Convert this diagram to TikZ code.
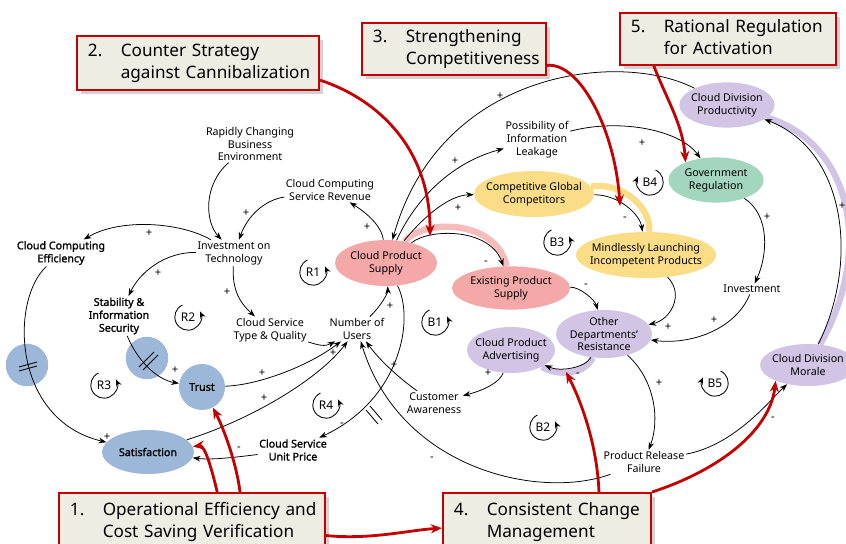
\documentclass[tikz,border=0pt]{standalone}
\usepackage{fontspec}
\setmainfont{Noto Sans}
\newfontfamily\keyfont{Noto Sans}[FakeBold=1.4]
\usetikzlibrary{arrows.meta,shapes.geometric,shadows,backgrounds}

\definecolor{cpink}{RGB}{245,168,168}
\definecolor{cpinkband}{RGB}{248,188,188}
\definecolor{cyellow}{RGB}{251,220,135}
\definecolor{cgreen}{RGB}{162,214,190}
\definecolor{cpurple}{RGB}{210,196,228}
\definecolor{cblue}{RGB}{157,183,217}
\definecolor{cboxfill}{RGB}{238,237,227}
\definecolor{cred}{RGB}{196,0,0}

\newcommand{\calltext}[3]{\begin{tabular}{@{}p{0.82cm}@{}l@{}}#1&#2\\&#3\end{tabular}}
\newcommand{\loopright}[2]{%
  \node[loopname] (loop#2) at (#1) {#2};
  \draw[looparrow] (#1) ++(115:0.33cm) arc[start angle=115, end angle=385, radius=0.33cm];}
\newcommand{\loopleft}[2]{%
  \node[loopname] (loop#2) at (#1) {#2};
  \draw[looparrow] (#1) ++(65:0.33cm) arc[start angle=65, end angle=-205, radius=0.33cm];}

\begin{document}
\begin{tikzpicture}[x=0.025cm, y=-0.025cm,
  every node/.style={font=\fontsize{7.6}{9.2}\selectfont, align=center, inner sep=1pt},
  keyvar/.style={font=\fontsize{7.6}{9.2}\keyfont},
  colvar/.style={ellipse, inner sep=0pt},
  link/.style={-{Stealth[length=5.5pt,width=4pt]}, line width=0.55pt},
  sign/.style={font=\fontsize{8}{8}\selectfont},
  band/.style={line width=4.5pt},
  redlink/.style={draw=cred, line width=2pt, -{Stealth[length=8pt,width=6.5pt]}},
  callout/.style={draw=cred, line width=1.4pt, fill=cboxfill, drop shadow={opacity=0.35},
    anchor=north west, align=left, inner xsep=0.275cm, inner ysep=2pt,
    font=\fontsize{12.2}{15.6}\selectfont},
  loopname/.style={font=\fontsize{8.5}{9}\selectfont},
  looparrow/.style={-{Stealth[length=5pt,width=4pt]}, line width=0.6pt},
  delaymark/.style={line width=0.6pt}
]
\useasboundingbox (0,0) rectangle (846,544);
\begin{pgfonlayer}{background}
  \fill[white] (0,0) rectangle (846,544);
  \fill[cblue] (27,365) circle[radius=0.53cm];
  \fill[cblue] (147,358) circle[radius=0.53cm];
\end{pgfonlayer}

% variables
\node (rcbe) at (250,144) {Rapidly Changing\\Business\\Environment};
\node (ccsr) at (330,190) {Cloud Computing\\Service Revenue};
\node[keyvar] (cce) at (61,253) {Cloud Computing\\Efficiency};
\node (iot) at (234,253) {Investment on\\Technology};
\node[keyvar] (sis) at (119,316) {Stability \&\\Information\\Security};
\node (cstq) at (270,330) {Cloud Service\\Type \& Quality};
\node (nou) at (357,329) {Number of\\Users};
\node (pil) at (537,140) {Possibility of\\Information\\Leakage};
\node (inv) at (752,289) {Investment};
\node (ca) at (434,403) {Customer\\Awareness};
\node[keyvar] (csup) at (293,450) {Cloud Service\\Unit Price};
\node (prf) at (644,462) {Product Release\\Failure};

\node[colvar, fill=cpink, minimum width=2.55cm, minimum height=1.15cm,
  label={center:Cloud Product\\Supply}] (cps) at (386,263) {};
\node[colvar, fill=cpink, minimum width=2.95cm, minimum height=1.08cm,
  label={center:Existing Product\\Supply}] (eps) at (511,288) {};
\node[colvar, fill=cyellow, minimum width=3cm, minimum height=1.15cm,
  label={center:Competitive Global\\Competitors}] (cgc) at (534,194) {};
\node[colvar, fill=cyellow, minimum width=3.5cm, minimum height=1.15cm,
  label={center:Mindlessly Launching\\Incompetent Products}] (mlip) at (646,255) {};
\node[colvar, fill=cgreen, minimum width=2.38cm, minimum height=1.13cm,
  label={center:Government\\Regulation}] (gr) at (716,180) {};
\node[colvar, fill=cpurple, minimum width=2.38cm, minimum height=1.13cm,
  label={center:Cloud Division\\Productivity}] (cdp) at (727,105) {};
\node[colvar, fill=cpurple, minimum width=2.4cm, minimum height=1.2cm,
  label={center:Other\\Departments'\\Resistance}] (odr) at (604,334) {};
\node[colvar, fill=cpurple, minimum width=2.2cm, minimum height=1.15cm,
  label={center:Cloud Product\\Advertising}] (cpa) at (511,350) {};
\node[colvar, fill=cpurple, minimum width=2.4cm, minimum height=1.05cm,
  label={center:Cloud Division\\Morale}] (cdm) at (808,365) {};
\node[keyvar, circle, fill=cblue, minimum size=1.15cm, inner sep=0pt] (trust) at (202,387) {Trust};
\node[colvar, fill=cblue, minimum width=2.3cm, minimum height=1.1cm,
  label={[keyvar]center:Satisfaction}] (sat) at (148,452) {};

\coordinate (tgt2) at (430,236);
\coordinate (tgt3) at (620,206);
\coordinate (tgt4) at (566,372);

% highlighted links
\begin{pgfonlayer}{background}
  \draw[band, cpinkband] (cps) .. controls (425,218) and (497,220) .. (eps);
  \draw[band, cyellow] (cgc) .. controls (625,182) and (652,210) .. (mlip);
  \draw[band, cpurple] (cdm) .. controls (872,255) and (855,145) .. (cdp);
  \draw[band, cpurple] (odr) .. controls (585,374) and (560,377) .. (cpa);
\end{pgfonlayer}

% causal links
\draw[link] (rcbe) .. controls (203,185) and (205,222) .. (iot);
\draw[link] (ccsr) .. controls (265,200) and (248,215) .. (iot);
\draw[link] (iot) .. controls (180,222) and (120,218) .. (cce);
\draw[link] (iot) .. controls (165,252) and (140,272) .. (sis);
\draw[link] (iot) .. controls (232,290) and (240,303) .. (cstq);
\draw[link] (cce) .. controls (10,300) and (12,420) .. (sat);
\draw[link] (sis) .. controls (138,362) and (158,380) .. (trust);
\draw[link] (trust) .. controls (260,385) and (310,365) .. (nou);
\draw[link] (sat) .. controls (250,420) and (318,380) .. (nou);
\draw[link] (cstq) .. controls (318,345) and (325,347) .. (nou);
\draw[link] (nou) .. controls (382,305) and (388,292) .. (cps);
\draw[link] (cps) .. controls (382,228) and (370,215) .. (ccsr);
\draw[link] (cps) .. controls (415,320) and (400,400) .. (csup);
\draw[link] (csup) .. controls (230,458) and (210,460) .. (sat);
\draw[link] (ca) .. controls (395,375) and (378,358) .. (nou);
\draw[link] (cpa) .. controls (500,382) and (485,390) .. (ca);
\draw[link] (odr) .. controls (585,368) and (560,372) .. (cpa);
\draw[link] (prf) .. controls (540,500) and (400,470) .. (nou);
\draw[link] (odr) .. controls (655,380) and (660,420) .. (prf);
\draw[link] (prf) .. controls (735,445) and (770,400) .. (cdm);
\draw[link] (cdm) .. controls (860,260) and (845,150) .. (cdp);
\draw[link] (cdp) .. controls (620,50) and (440,70) .. (cps);
\draw[link] (cps) .. controls (420,190) and (460,160) .. (pil);
\draw[link] (cps) .. controls (425,215) and (450,195) .. (cgc);
\draw[link] (cps) .. controls (430,228) and (490,228) .. (eps);
\draw[link] (pil) .. controls (620,118) and (680,130) .. (gr);
\draw[link] (gr) .. controls (770,215) and (768,255) .. (inv);
\draw[link] (inv) .. controls (735,330) and (690,345) .. (odr);
\draw[link] (mlip) .. controls (685,295) and (670,320) .. (odr);
\draw[link] (eps) .. controls (580,287) and (595,300) .. (odr);
\draw[link] (cgc) .. controls (620,195) and (640,215) .. (mlip);

% delay marks
\draw[delaymark] (19,367) -- (37,362) (19,371) -- (37,366);
\draw[delaymark] (139,367) -- (154,352) (143,370) -- (158,355);
\draw[delaymark] (366,410) -- (378,424) (370,406) -- (382,420);

% polarities
\node[sign] (sg1) at (246,213) {+};  \node[sign] (sg2) at (149,233) {+};
\node[sign] (sg3) at (158,273) {+};  \node[sign] (sg4) at (227,292) {+};
\node[sign] (sg5) at (107,437) {+};  \node[sign] (sg6) at (175,370) {+};
\node[sign] (sg7) at (262,373) {+};  \node[sign] (sg8) at (264,398) {+};
\node[sign] (sg9) at (333,353) {+};  \node[sign] (sg10) at (390,306) {+};
\node[sign] (sg11) at (367,227) {+}; \node[sign] (sg12) at (342,425) {-};
\node[sign] (sg13) at (239,449) {-}; \node[sign] (sg14) at (394,365) {+};
\node[sign] (sg15) at (488,373) {+}; \node[sign] (sg16) at (578,375) {-};
\node[sign] (sg17) at (432,459) {-}; \node[sign] (sg18) at (659,383) {+};
\node[sign] (sg19) at (773,419) {-}; \node[sign] (sg20) at (842,206) {+};
\node[sign] (sg21) at (500,96) {+};  \node[sign] (sg22) at (455,161) {+};
\node[sign] (sg23) at (458,208) {+}; \node[sign] (sg24) at (486,263) {-};
\node[sign] (sg25) at (642,143) {+}; \node[sign] (sg26) at (767,217) {+};
\node[sign] (sg27) at (714,320) {+}; \node[sign] (sg28) at (668,327) {+};
\node[sign] (sg29) at (586,286) {-}; \node[sign] (sg30) at (625,219) {-};

% loops
\loopright{313,272}{R1}
\loopright{188,317}{R2}
\loopright{104,385}{R3}
\loopright{326,405}{R4}
\loopright{435,322}{B1}
\loopright{543,427}{B2}
\loopright{557,242}{B3}
\loopleft{650,182}{B4}
\loopleft{715,383}{B5}

% management points
\node[callout, text width=5.5cm, minimum height=1.35cm] (b2) at (76,35)
  {\calltext{2.}{Counter Strategy}{against Cannibalization}};
\node[callout, text width=4.05cm, minimum height=1.3cm] (b3) at (361,22)
  {\calltext{3.}{Strengthening}{Competitiveness}};
\node[callout, text width=4.85cm, minimum height=1.3cm] (b5) at (619,12)
  {\calltext{5.}{Rational Regulation}{for Activation}};
\node[callout, text width=6.1cm, minimum height=1.45cm] (b1) at (58,492)
  {\calltext{1.}{Operational Efficiency and}{Cost Saving Verification}};
\node[callout, text width=4.65cm, minimum height=1.45cm] (b4) at (442,492)
  {\calltext{4.}{Consistent Change}{Management}};

\draw[redlink] (b2.-8) .. controls (380,100) and (430,150) .. (tgt2);
\draw[redlink] (b3.-10) .. controls (580,62) and (615,130) .. (tgt3);
\draw[redlink] (b5.200) .. controls (667,100) and (683,125) .. (gr.150);
\draw[redlink] (b1.32) .. controls (236,460) and (222,425) .. (trust);
\draw[redlink] (b1.50) .. controls (212,470) and (205,445) .. (sat);
\draw[redlink] (b1) .. controls (370,540) and (410,530) .. (b4);
\draw[redlink] (b4.30) .. controls (597,440) and (578,395) .. (tgt4);
\draw[redlink] (b4.north east) .. controls (720,470) and (770,430) .. (cdm.206);
\end{tikzpicture}
\end{document}
